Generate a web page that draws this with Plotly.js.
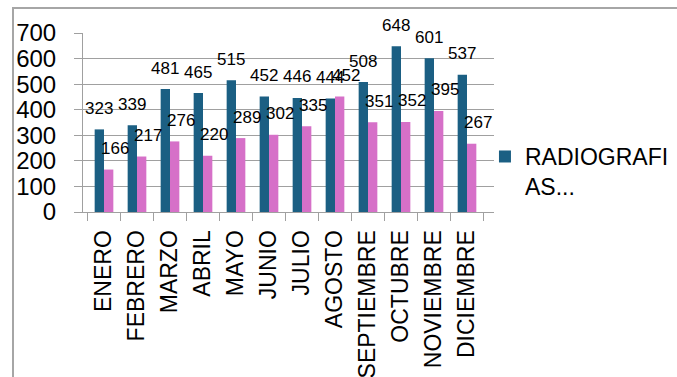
<!DOCTYPE html>
<html>
<head>
<meta charset="utf-8">
<script src="https://cdn.plot.ly/plotly-3.0.1.min.js"></script>
<style>
  html, body { margin: 0; padding: 0; background: #ffffff; }
  #frame { position: absolute; left: 0; top: 0; width: 677px; height: 377px; }
  #border { position: absolute; left: 12px; top: 7px; width: 680px; height: 380px;
            border-left: 2px solid #a6a6a6; border-top: 2px solid #a6a6a6; pointer-events: none; }
  #chart { position: absolute; left: 0; top: 0; width: 677px; height: 377px; }
</style>
</head>
<body>
<div id="frame">
  <div id="chart"></div>
  <div id="border"></div>
</div>
<script>
const months = ["ENERO","FEBRERO","MARZO","ABRIL","MAYO","JUNIO","JULIO","AGOSTO","SEPTIEMBRE","OCTUBRE","NOVIEMBRE","DICIEMBRE"];
const seriesA = [323,339,481,465,515,452,446,444,508,648,601,537];
const seriesB = [166,217,276,220,289,302,335,452,351,352,395,267];
const seriesAName = "RADIOGRAFI<br>AS...";
const seriesBName = "SERIE 2";
const yTicks = [0,100,200,300,400,500,600,700];

const blue = "#1b5f83";
const pink = "#d670c8";
const font = "Liberation Sans, Arial, sans-serif";

const traces = [
  {type: "bar", x: months, y: seriesA, name: seriesAName, marker: {color: blue}, showlegend: true, hoverinfo: "none"},
  {type: "bar", x: months, y: seriesB, name: seriesBName, marker: {color: pink}, showlegend: false, hoverinfo: "none"}
];

const annotations = [];
months.forEach((m, i) => {
  annotations.push({x: m, y: seriesA[i], text: String(seriesA[i]), showarrow: false,
    xshift: -5, yshift: 21, font: {family: font, size: 17, color: "#000"}});
  annotations.push({x: m, y: seriesB[i], text: String(seriesB[i]), showarrow: false,
    xshift: 11, yshift: 21, font: {family: font, size: 17, color: "#000"}});
});

const layout = {
  width: 677, height: 377,
  margin: {l: 83, r: 183, t: 33, b: 165, pad: 0, autoexpand: false},
  paper_bgcolor: "rgba(0,0,0,0)", plot_bgcolor: "rgba(0,0,0,0)",
  barmode: "group", bargap: 0.434, bargroupgap: 0,
  font: {family: font, color: "#000"},
  xaxis: {
    type: "category", tickangle: -90, tickson: "boundaries",
    ticks: "outside", ticklen: 8, tickcolor: "#a0a0a0", tickwidth: 1,
    showline: true, linecolor: "#a0a0a0", linewidth: 1,
    showgrid: false, ticklabelstandoff: 8, automargin: false,
    tickfont: {family: font, size: 23, color: "#000"}
  },
  yaxis: {
    range: [0, 700], tickvals: yTicks, ticktext: yTicks.map(String),
    ticks: "outside", ticklen: 8, tickcolor: "#a0a0a0", tickwidth: 1,
    showline: true, linecolor: "#a0a0a0", linewidth: 1,
    showgrid: true, gridcolor: "#a0a0a0", gridwidth: 1, zeroline: false,
    ticklabelstandoff: 13, automargin: false,
    tickfont: {family: font, size: 24, color: "#000"}
  },
  legend: {
    x: 0.978, xanchor: "left", y: 0.43, yanchor: "top", valign: "top",
    bgcolor: "rgba(0,0,0,0)", font: {family: font, size: 23, color: "#000"}
  },
  annotations: annotations
};

Plotly.newPlot("chart", traces, layout, {displayModeBar: false, staticPlot: true});
</script>
</body>
</html>
